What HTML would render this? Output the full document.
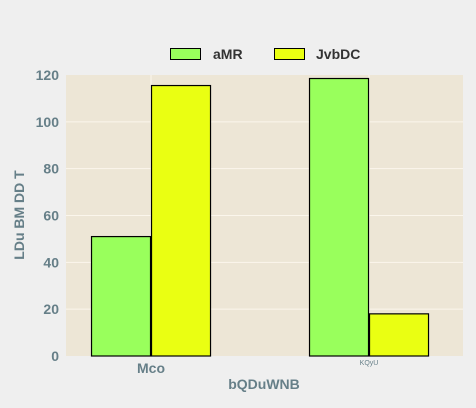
<!DOCTYPE html>
<html><head><meta charset="utf-8"><style>
html,body{margin:0;padding:0;background:#efefef;}
svg{display:block;font-family:"Liberation Sans",sans-serif;}
</style></head><body>
<svg id="c" width="476" height="408">
<rect x="66" y="75" width="397" height="281" fill="#ede6d6"/>
<g id="grid"></g><g id="bars"></g><g id="axes"></g>
<g>
<rect x="170.5" y="48.5" width="30" height="11" fill="#99ff5c" stroke="#000"/>
<text x="213" y="59" font-size="14" font-weight="bold" fill="#333">aMR</text>
<rect x="274.5" y="48.5" width="30" height="11" fill="#eaff12" stroke="#000"/>
<text x="316" y="59" font-size="14" font-weight="bold" fill="#333">JvbDC</text>
</g>
<text x="264" y="389" text-anchor="middle" font-size="14" font-weight="bold" fill="#667f88">bQDuWNB</text>
<text transform="translate(24,215) rotate(-90)" text-anchor="middle" font-size="14" font-weight="bold" fill="#667f88">LDu BM DD T</text>
</svg>
<script>
const categories=["Mco","KQyU"];
const seriesNames=["aMR","JvbDC"];
const amrValues=[51,118.5];
const jvbdcValues=[115.5,18];
const yTicks=[0,20,40,60,80,100,120];
const NS="http://www.w3.org/2000/svg";
const y=v=>356-v*(281/120);
const xc=i=>66+(i+0.39)*218;
const colors=["#99ff5c","#eaff12"];
function mk(t,a,p){const e=document.createElementNS(NS,t);for(const k in a)e.setAttribute(k,a[k]);p.appendChild(e);return e;}
const grid=document.getElementById('grid'),bars=document.getElementById('bars'),axes=document.getElementById('axes');
yTicks.forEach(t=>{
 if(t>0&&t<120){const l=mk('line',{x1:66,x2:463,y1:y(t),y2:y(t),stroke:'#fbf6ec','stroke-width':1},grid);
 
 }
 const tx=mk('text',{x:59,y:y(t)+5,'text-anchor':'end','font-size':14,'font-weight':'bold',fill:'#667f88'},axes);
 tx.textContent=t;
 
 
});
categories.forEach((c,i)=>{
 const g=mk('line',{x1:xc(i),x2:xc(i),y1:75,y2:356,stroke:'#fbf6ec','stroke-width':1},grid);
 
 
 [amrValues,jvbdcValues].forEach((vals,s)=>{
  const x0=s===0?xc(i)-60:xc(i);
  const r=mk('rect',{x:x0+0.5,y:y(vals[i]),width:59,height:356-y(vals[i]),fill:colors[s],stroke:'#000','stroke-width':1.2},bars);
  
  
 });
 const small=i===1;
 const t=mk('text',{x:xc(i),y:small?365:373,'text-anchor':'middle','font-size':small?7:14,'font-weight':small?'normal':'bold',fill:'#667f88'},axes);
 t.textContent=c;
 
 
});
</script>
</body></html>
